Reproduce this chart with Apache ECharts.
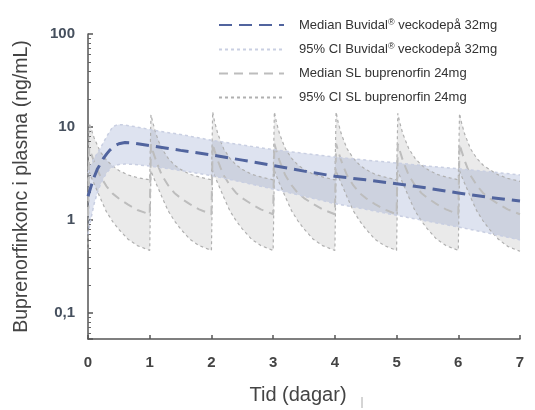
<!DOCTYPE html>
<html>
<head>
<meta charset="utf-8">
<script src="https://cdn.jsdelivr.net/npm/echarts@6/dist/echarts.min.js"></script>
<style>html,body{margin:0;padding:0;background:#fff}#c{width:535px;height:410px}</style>
</head>
<body>
<div id="c"></div>
<script>
// ---- Data ----
const xTicks = [0, 1, 2, 3, 4, 5, 6, 7];
const yTickLabels = { '-1': '0,1', '0': '1', '1': '10', '2': '100' };

const seriesNames = [
  'Median Buvidal® veckodepå 32mg',
  '95% CI Buvidal® veckodepå 32mg',
  'Median SL buprenorfin 24mg',
  '95% CI SL buprenorfin 24mg'
];

// Buvidal weekly depot 32 mg
const bvT      = [0, 0.05, 0.1, 0.15, 0.2, 0.25, 0.3, 0.35, 0.4, 0.45, 0.5, 0.6, 0.75, 1, 1.25, 1.5, 2, 2.5, 3, 3.5, 4, 4.5, 5, 5.5, 6, 6.5, 7];
const bvMedian = [1.8, 2.3, 2.9, 3.5, 4.0, 4.6, 5.1, 5.6, 6.0, 6.35, 6.6, 6.8, 6.7, 6.3, 5.95, 5.6, 5.0, 4.4, 3.85, 3.35, 2.95, 2.7, 2.45, 2.2, 1.95, 1.75, 1.6];
const bvUpper  = [3.2, 3.9, 4.6, 5.2, 5.9, 6.8, 7.8, 8.9, 10.0, 10.4, 10.6, 10.5, 10.1, 9.4, 8.8, 8.3, 7.2, 6.4, 5.7, 5.2, 4.75, 4.4, 4.1, 3.8, 3.55, 3.3, 3.05];
const bvLower  = [0.7, 1.05, 1.5, 1.95, 2.4, 2.8, 3.2, 3.5, 3.7, 3.85, 3.95, 4.0, 3.95, 3.8, 3.6, 3.4, 3.0, 2.55, 2.15, 1.8, 1.5, 1.3, 1.12, 0.97, 0.84, 0.72, 0.61];

// SL buprenorfin 24 mg daily
const slT = [
  0, 0.02, 0.05, 0.1, 0.15, 0.2, 0.3, 0.4, 0.5, 0.65, 0.8,
  1, 1.02, 1.05, 1.1, 1.15, 1.2, 1.3, 1.4, 1.5, 1.65, 1.8,
  2, 2.02, 2.05, 2.1, 2.15, 2.2, 2.3, 2.4, 2.5, 2.65, 2.8,
  3, 3.02, 3.05, 3.1, 3.15, 3.2, 3.3, 3.4, 3.5, 3.65, 3.8,
  4, 4.02, 4.05, 4.1, 4.15, 4.2, 4.3, 4.4, 4.5, 4.65, 4.8,
  5, 5.02, 5.05, 5.1, 5.15, 5.2, 5.3, 5.4, 5.5, 5.65, 5.8,
  6, 6.02, 6.05, 6.1, 6.15, 6.2, 6.3, 6.4, 6.5, 6.65, 6.8,
  7
];
const slMedian = [
  1.1, 6.0, 5.2, 4.2, 3.5, 2.95, 2.3, 1.92, 1.7, 1.46, 1.28,
  1.15, 6.5, 5.5, 4.4, 3.6, 3.0, 2.35, 1.95, 1.72, 1.48, 1.3,
  1.15, 6.6, 5.6, 4.4, 3.6, 3.0, 2.35, 1.95, 1.72, 1.48, 1.3,
  1.15, 6.6, 5.6, 4.4, 3.6, 3.0, 2.35, 1.95, 1.72, 1.48, 1.3,
  1.15, 6.6, 5.6, 4.4, 3.6, 3.0, 2.35, 1.95, 1.72, 1.48, 1.3,
  1.15, 6.6, 5.6, 4.4, 3.6, 3.0, 2.35, 1.95, 1.72, 1.48, 1.3,
  1.15, 6.6, 5.6, 4.4, 3.6, 3.0, 2.35, 1.95, 1.72, 1.48, 1.3,
  1.15
];
const slUpper = [
  2.6, 11.0, 9.6, 7.6, 6.4, 5.4, 4.4, 3.8, 3.4, 3.05, 2.85,
  2.7, 13.5, 11.2, 8.5, 6.9, 5.8, 4.6, 3.9, 3.5, 3.1, 2.9,
  2.7, 14.5, 11.5, 8.6, 7.0, 5.8, 4.6, 3.9, 3.5, 3.1, 2.9,
  2.7, 14.5, 11.5, 8.6, 7.0, 5.8, 4.6, 3.9, 3.5, 3.1, 2.9,
  2.7, 14.5, 11.5, 8.6, 7.0, 5.8, 4.6, 3.9, 3.5, 3.1, 2.9,
  2.7, 14.0, 11.3, 8.5, 7.0, 5.8, 4.6, 3.9, 3.5, 3.1, 2.9,
  2.7, 14.0, 11.3, 8.5, 7.0, 5.8, 4.6, 3.9, 3.5, 3.05, 2.8,
  2.6
];
const slLower = [
  0.47, 3.3, 2.9, 2.45, 2.05, 1.72, 1.22, 0.96, 0.79, 0.62, 0.53,
  0.47, 3.4, 3.0, 2.5, 2.1, 1.75, 1.25, 0.98, 0.8, 0.62, 0.53,
  0.47, 3.4, 3.0, 2.5, 2.1, 1.75, 1.25, 0.98, 0.8, 0.62, 0.53,
  0.47, 3.4, 3.0, 2.5, 2.1, 1.75, 1.25, 0.98, 0.8, 0.62, 0.53,
  0.47, 3.4, 3.0, 2.5, 2.1, 1.75, 1.25, 0.98, 0.8, 0.62, 0.53,
  0.47, 3.4, 3.0, 2.5, 2.1, 1.75, 1.25, 0.98, 0.8, 0.62, 0.53,
  0.47, 3.4, 3.0, 2.5, 2.1, 1.75, 1.25, 0.98, 0.8, 0.62, 0.52,
  0.46
];

// ---- Build series ----
const pairs = (xs, ys) => xs.map((x, i) => [x, ys[i]]);

// band drawn as one polygon through the chart's own coordinate system
function bandSeries(xs, lo, hi, fill) {
  return {
    type: 'custom', silent: true, clip: true,
    data: xs.map((x, i) => [x, lo[i], hi[i]]),
    encode: { x: 0, y: [1, 2] },
    renderItem: (params, api) => {
      if (params.dataIndex !== 0) return null;
      const pts = [];
      for (let i = 0; i < xs.length; i++) pts.push(api.coord([xs[i], hi[i]]));
      for (let i = xs.length - 1; i >= 0; i--) pts.push(api.coord([xs[i], lo[i]]));
      return { type: 'polygon', shape: { points: pts }, style: { fill: fill, stroke: null } };
    }
  };
}

const FONT = 'Liberation Sans, Arial, sans-serif';
const chart = echarts.init(document.getElementById('c'), null, { renderer: 'canvas' });

function lineS(name, xs, ys, color, width, dash) {
  return { type: 'line', name: name, data: pairs(xs, ys), symbol: 'none', showSymbol: false,
    lineStyle: { color: color, width: width, type: dash }, itemStyle: { color: color } };
}

chart.setOption({
  animation: false,
  textStyle: { fontFamily: FONT },
  grid: { left: 88, right: 15, top: 34, bottom: 67 },
  legend: {
    orient: 'vertical',
    left: 213, top: 13,
    itemWidth: 65, itemHeight: 14, itemGap: 11,
    data: seriesNames,
    itemStyle: { opacity: 0 },
    formatter: n => n.indexOf('®') >= 0 ? n.replace('®', '{sup|®}') : n,
    textStyle: {
      fontSize: 13, color: '#333', fontFamily: FONT, padding: [0, 0, 0, 10],
      rich: { sup: { fontSize: 9, verticalAlign: 'top', padding: [0, 0, 5, 0], color: '#333' } }
    }
  },
  xAxis: {
    type: 'value', min: 0, max: 7, interval: 1,
    name: 'Tid (dagar)', nameLocation: 'middle', nameGap: 46,
    nameTextStyle: { fontSize: 20, color: '#444', padding: [0, 12, 0, 0] },
    axisLine: { lineStyle: { color: '#555', width: 1.5 } },
    axisTick: { inside: true, length: 4, lineStyle: { color: '#555', width: 1.5 } },
    axisLabel: { fontSize: 15, fontWeight: 'bold', color: '#444', margin: 16,
      formatter: v => xTicks.indexOf(v) >= 0 ? String(v) : '' },
    splitLine: { show: false }
  },
  yAxis: {
    type: 'log', logBase: 10, min: 0.0524, max: 100,
    name: 'Buprenorfinkonc i plasma (ng/mL)', nameLocation: 'middle', nameGap: 56,
    nameTextStyle: { fontSize: 19.5, color: '#444' },
    axisLine: { show: true, lineStyle: { color: '#555', width: 1.5 } },
    axisTick: { inside: true, length: 5, lineStyle: { color: '#555', width: 1.5 } },
    minorTick: { show: true, splitNumber: 9, length: 3, lineStyle: { color: '#666' } },
    axisLabel: { fontSize: 15, fontWeight: 'bold', color: '#46505e', margin: 13,
      formatter: v => {
        const e = Math.log10(v), r = Math.round(e);
        return Math.abs(e - r) < 1e-6 && yTickLabels[String(r)] ? yTickLabels[String(r)] : '';
      } },
    splitLine: { show: false }
  },
  series: [
    bandSeries(slT, slLower, slUpper, 'rgba(130,130,130,0.17)'),
    bandSeries(bvT, bvLower, bvUpper, 'rgba(70,100,170,0.18)'),
    lineS(seriesNames[3], slT, slUpper, '#b0b0b0', 1.2, [3, 3]),
    lineS(seriesNames[3], slT, slLower, '#b0b0b0', 1.2, [3, 3]),
    lineS(seriesNames[2], slT, slMedian, '#bdbdbd', 2, [9, 6]),
    lineS(seriesNames[1], bvT, bvUpper, '#c9cfe2', 1.5, [3, 3]),
    lineS(seriesNames[1], bvT, bvLower, '#c9cfe2', 1.5, [3, 3]),
    lineS(seriesNames[0], bvT, bvMedian, '#51649e', 3, [13, 7])
  ],
  graphic: [
    { type: 'line', shape: { x1: 362, y1: 397, x2: 362, y2: 408 }, style: { stroke: '#aaa', lineWidth: 1 } }
  ]
});
</script>
</body>
</html>
